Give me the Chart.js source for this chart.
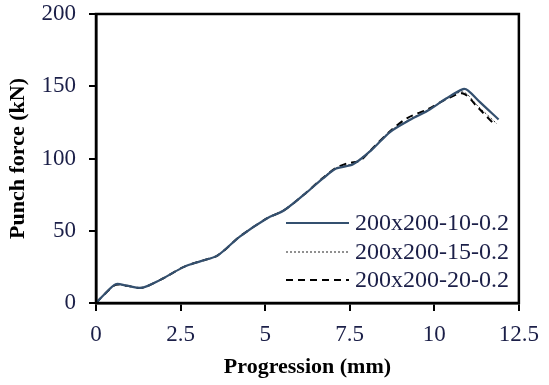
<!DOCTYPE html>
<html>
<head>
<meta charset="utf-8">
<script src="https://cdn.jsdelivr.net/npm/chart.js@4/dist/chart.umd.min.js"></script>
<style>
  html, body { margin: 0; padding: 0; background: #fff; }
  #wrap { width: 549px; height: 385px; }
</style>
</head>
<body>
<div id="wrap"><canvas id="punchChart"></canvas></div>
<script>
// Punch force vs progression, three specimens

const seriesNames = ['200x200-10-0.2', '200x200-15-0.2', '200x200-20-0.2'];

const prog10 = [0, 0.25, 0.58, 0.9, 1.35, 1.9, 2.6, 3.1, 3.6, 4.25, 5.05, 5.55, 6.2, 6.7, 7.1, 7.6, 8.15, 8.7, 9.3, 9.8, 10.35, 10.85, 11.0, 11.35, 11.9];
const force10 = [0, 6, 13, 12, 10.5, 16, 25, 29, 33, 46, 58.5, 64, 76, 86, 93, 96, 106, 118.5, 127, 133, 141.5, 148, 147, 139, 127];

const prog15 = [0, 0.25, 0.58, 0.9, 1.35, 1.9, 2.6, 3.1, 3.6, 4.25, 5.05, 5.55, 6.2, 6.7, 7.1, 7.6, 8.15, 8.7, 9.3, 9.8, 10.35, 10.85, 11.3, 11.85];
const force15 = [0, 6, 12.5, 12, 10.5, 16, 25, 29, 33, 46, 58.5, 64.5, 76, 86.5, 93.5, 96.5, 106.5, 119, 127.5, 133.5, 141, 146, 136, 124];

const prog20 = [0, 0.25, 0.58, 0.9, 1.35, 1.9, 2.6, 3.1, 3.6, 4.25, 5.05, 5.55, 6.2, 6.7, 7.1, 7.4, 7.8, 8.15, 8.7, 9.2, 9.8, 10.35, 10.85, 11.3, 11.8];
const force20 = [0, 6, 12.5, 12, 10.5, 16, 25, 29, 33, 46, 58.5, 64, 76, 86.5, 93.5, 96.5, 98.5, 106.5, 119, 128, 134, 141, 145, 135, 123];

const xTicks = [0, 2.5, 5, 7.5, 10, 12.5];
const yTicks = [0, 50, 100, 150, 200];

function toPoints(xs, ys) {
    return xs.map((x, i) => ({ x: x, y: ys[i] }));
}

const serif = "'Liberation Serif', 'Times New Roman', serif";
const labelColor = '#1b1f48';

// frame around plot area (top and right sides too)
const framePlugin = {
    id: 'frame',
    afterDraw(chart) {
        const { ctx, chartArea: a } = chart;
        ctx.save();
        ctx.strokeStyle = '#000';
        ctx.lineWidth = 2.5;
        ctx.strokeRect(a.left, a.top, a.right - a.left, a.bottom - a.top);
        ctx.restore();
    }
};

// legend drawn inside the plot area, lower right
const insideLegend = {
    id: 'insideLegend',
    afterDraw(chart) {
        const { ctx, chartArea: a } = chart;
        const rows = [a.top + 209, a.top + 238, a.top + 266];
        ctx.save();
        chart.data.datasets.forEach((ds, i) => {
            const y = rows[i];
            ctx.beginPath();
            ctx.strokeStyle = ds.borderColor;
            ctx.lineWidth = ds.borderWidth;
            ctx.setLineDash(ds.borderDash || []);
            ctx.moveTo(a.left + 190, y);
            ctx.lineTo(a.left + 253, y);
            ctx.stroke();
            ctx.setLineDash([]);
            ctx.fillStyle = labelColor;
            ctx.font = '24px ' + serif;
            ctx.textBaseline = 'middle';
            ctx.textAlign = 'left';
            ctx.fillText(ds.label, a.left + 259, y + 1);
        });
        ctx.restore();
    }
};

new Chart(document.getElementById('punchChart'), {
    type: 'scatter',
    data: {
        datasets: [
            {
                label: seriesNames[0],
                data: toPoints(prog10, force10),
                showLine: true,
                borderColor: '#34506f',
                borderWidth: 2.2,
                pointRadius: 0,
                tension: 0.3
            },
            {
                label: seriesNames[1],
                data: toPoints(prog15, force15),
                showLine: true,
                borderColor: '#222',
                borderWidth: 1,
                borderDash: [2, 2],
                pointRadius: 0,
                tension: 0.3
            },
            {
                label: seriesNames[2],
                data: toPoints(prog20, force20),
                showLine: true,
                borderColor: '#000',
                borderWidth: 2,
                borderDash: [7, 5],
                pointRadius: 0,
                tension: 0.3
            }
        ]
    },
    options: {
        responsive: true,
        maintainAspectRatio: false,
        animation: false,
        layout: { padding: { top: 14, right: 22, left: 0, bottom: 0 } },
        plugins: {
            legend: { display: false },
            tooltip: { enabled: false }
        },
        scales: {
            x: {
                type: 'linear',
                min: 0,
                max: 12.5,
                afterBuildTicks: s => { s.ticks = xTicks.map(v => ({ value: v })); },
                afterFit: s => { s.height = 82; },
                grid: { drawOnChartArea: false, color: '#000', lineWidth: 2, tickLength: 8 },
                border: { color: '#000', width: 2.5 },
                ticks: {
                    color: labelColor,
                    font: { family: serif, size: 23 },
                    padding: 10,
                    maxRotation: 0,
                    callback: v => String(v)
                },
                title: {
                    display: true,
                    text: 'Progression (mm)',
                    color: '#000',
                    font: { family: serif, size: 22, weight: 'bold' },
                    padding: { top: 0, bottom: 4 }
                }
            },
            y: {
                min: 0,
                max: 200,
                afterBuildTicks: s => { s.ticks = yTicks.map(v => ({ value: v })); },
                afterFit: s => { s.width = 96; s.paddingTop = 0; s.paddingBottom = 0; },
                grid: { drawOnChartArea: false, color: '#000', lineWidth: 2, tickLength: 7 },
                border: { color: '#000', width: 2.5 },
                ticks: {
                    color: labelColor,
                    font: { family: serif, size: 23 },
                    padding: 13
                },
                title: {
                    display: true,
                    text: 'Punch force (kN)',
                    color: '#000',
                    font: { family: serif, size: 22, weight: 'bold' },
                    padding: { top: 5, bottom: 0 }
                }
            }
        }
    },
    plugins: [framePlugin, insideLegend]
});
</script>
</body>
</html>
